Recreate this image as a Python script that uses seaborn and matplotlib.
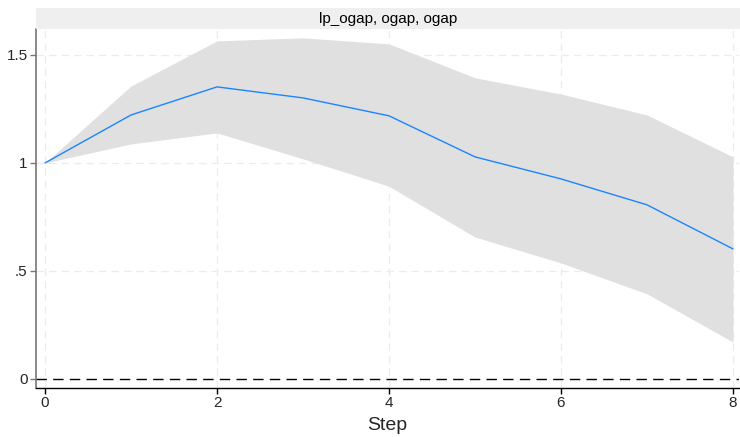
import matplotlib
matplotlib.use("Agg")
import matplotlib.pyplot as plt
import seaborn as sns
import pandas as pd
from matplotlib.patches import Rectangle

# Impulse response of ogap to an ogap shock, local projection with 95% band
step = [0, 1, 2, 3, 4, 5, 6, 7, 8]
irf = [1.000, 1.222, 1.352, 1.301, 1.218, 1.028, 0.926, 0.806, 0.602]
upper = [1.000, 1.356, 1.565, 1.579, 1.551, 1.394, 1.319, 1.222, 1.028]
lower = [1.000, 1.088, 1.139, 1.019, 0.892, 0.657, 0.537, 0.394, 0.171]
panel_title = "lp_ogap, ogap, ogap"
xticks = [0, 2, 4, 6, 8]
yticks = [0, 0.5, 1, 1.5]
ytick_labels = ["0", ".5", "1", "1.5"]

df = pd.DataFrame({"step": step, "irf": irf, "upper": upper, "lower": lower})

sns.set_theme(style="white")
plt.rcParams["font.family"] = ["Liberation Sans", "DejaVu Sans"]

fig = plt.figure(figsize=(7.4, 4.37), dpi=100)
ax = fig.add_axes([36 / 740, 49 / 437, 703 / 740, 359 / 437])

ax.fill_between(df["step"], df["lower"], df["upper"], color="#e0e0e0", linewidth=0, zorder=1)
sns.lineplot(data=df, x="step", y="irf", ax=ax, color="#1a85ff", linewidth=1.0, zorder=3)
ax.axhline(0, color="black", linestyle=(0, (7.5, 4.5)), linewidth=1.0, zorder=2)

# light dashed grid
for xv in xticks:
    ax.axvline(xv, color="#ececec", linestyle=(0, (6, 4)), linewidth=0.9, zorder=0)
for yv in yticks[1:]:
    ax.axhline(yv, color="#ececec", linestyle=(0, (6, 4)), linewidth=0.9, zorder=0)

ax.set_xlim(-0.105, 8.07)
ax.set_ylim(-0.042, 1.62)
ax.set_xticks(xticks)
ax.set_xticklabels([str(v) for v in xticks])
ax.set_yticks(yticks)
ax.set_yticklabels(ytick_labels)

ax.tick_params(axis="x", direction="out", length=4, width=1, color="black",
               labelsize=11, pad=2, bottom=True)
ax.tick_params(axis="y", direction="out", length=4, width=1, color="#777777",
               labelsize=11, pad=2, left=True)

for side in ["top", "right"]:
    ax.spines[side].set_visible(False)
ax.spines["left"].set_color("#777777")
ax.spines["left"].set_linewidth(1.2)
ax.spines["bottom"].set_color("black")
ax.spines["bottom"].set_linewidth(1.0)

ax.set_xlabel("Step", fontsize=14, labelpad=5)
ax.set_ylabel("")

# panel header strip
fig.patches.append(Rectangle((36 / 740, (437 - 29) / 437), 704 / 740, 21 / 437,
                             transform=fig.transFigure, facecolor="#efefef",
                             edgecolor="none", zorder=0))
fig.text((36 + 740) / 2 / 740, (437 - 18.5) / 437, panel_title,
         ha="center", va="center", fontsize=11, color="black")

fig.savefig("out.png", dpi=100, facecolor="white")
